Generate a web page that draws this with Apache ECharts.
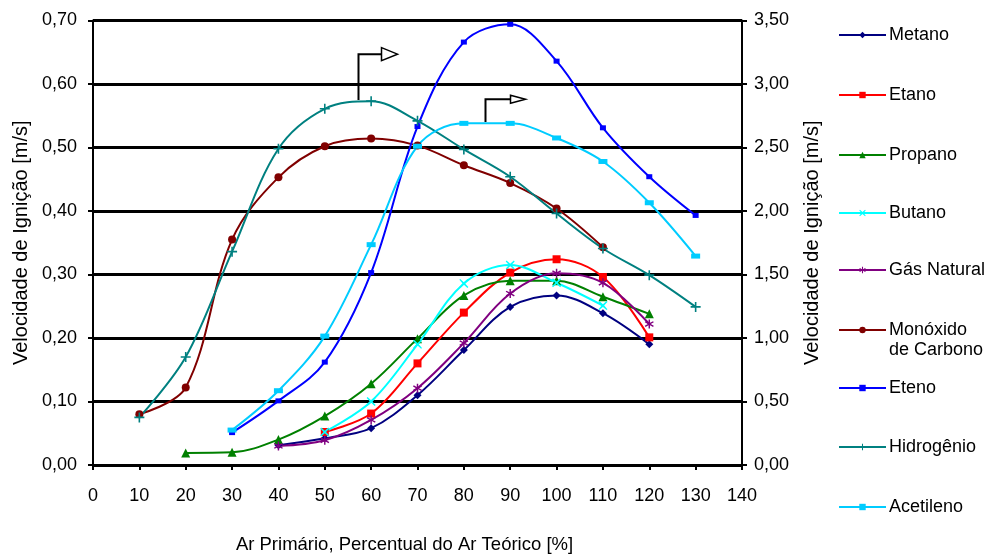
<!DOCTYPE html>
<html>
<head>
<meta charset="utf-8">
<script src="https://cdn.jsdelivr.net/npm/echarts@6/dist/echarts.min.js"></script>
<style>
html,body{margin:0;padding:0;background:#fff;}
#c{width:990px;height:559px;}
</style>
</head>
<body>
<div id="c"></div>
<script>
// ---- data ----
const xTicksMin = 0, xTicksMax = 140;
const metanoX = [40, 50, 60, 70, 80, 90, 100, 110, 120];
const metanoY = [0.031, 0.042, 0.058, 0.110, 0.181, 0.249, 0.267, 0.239, 0.190];
const etanoX = [50, 60, 70, 80, 90, 100, 110, 120];
const etanoY = [0.052, 0.081, 0.160, 0.240, 0.303, 0.324, 0.296, 0.201];
const propanoX = [20, 30, 40, 50, 60, 70, 80, 90, 100, 110, 120];
const propanoY = [0.019, 0.020, 0.040, 0.077, 0.128, 0.199, 0.267, 0.290, 0.290, 0.265, 0.238];
const butanoX = [50, 60, 70, 80, 90, 100, 110];
const butanoY = [0.052, 0.100, 0.190, 0.286, 0.315, 0.287, 0.251];
const gasNaturalX = [40, 50, 60, 70, 80, 90, 100, 110, 120];
const gasNaturalY = [0.030, 0.039, 0.071, 0.121, 0.192, 0.270, 0.302, 0.287, 0.222];
const coX = [10, 20, 30, 40, 50, 60, 70, 80, 90, 100, 110];
const coY = [0.080, 0.122, 0.355, 0.453, 0.502, 0.514, 0.503, 0.472, 0.444, 0.404, 0.343];
const etenoX = [30, 40, 50, 60, 70, 80, 90, 100, 110, 120, 130];
const etenoY = [0.051, 0.101, 0.162, 0.303, 0.533, 0.666, 0.694, 0.636, 0.531, 0.454, 0.393];
// right axis (m/s, 0 - 3,50)
const hidrogenioX = [10, 20, 30, 40, 50, 60, 70, 80, 90, 100, 110, 120, 130];
const hidrogenioY = [0.375, 0.85, 1.68, 2.49, 2.805, 2.865, 2.71, 2.485, 2.27, 1.98, 1.705, 1.495, 1.245];
const acetilenoX = [30, 40, 50, 60, 70, 80, 90, 100, 110, 120, 130];
const acetilenoY = [0.275, 0.585, 1.015, 1.735, 2.51, 2.69, 2.69, 2.575, 2.39, 2.065, 1.645];

const names = ['Metano', 'Etano', 'Propano', 'Butano', 'Gás Natural',
  'Monóxido de Carbono', 'Eteno', 'Hidrogênio', 'Acetileno'];
const xTitle = 'Ar Primário, Percentual do Ar Teórico [%]';
const yTitle = 'Velocidade de Ignição [m/s]';

// ---- styling ----
const FONT = 'Liberation Sans, Arial, sans-serif';
const xPath = 'path://M1,0L5,3.6L9,0L10,1L6.4,5L10,9L9,10L5,6.4L1,10L0,9L3.6,5L0,1Z';
const starPath = 'path://M4.3,0L5.7,0L5.7,3.3L8.6,1.6L9.3,2.8L6.4,4.5L9.3,6.2L8.6,7.4L5.7,5.7L5.7,9L4.3,9L4.3,5.7L1.4,7.4L0.7,6.2L3.6,4.5L0.7,2.8L1.4,1.6L4.3,3.3Z';
const tickPlus = 'path://M4.2,0L5.8,0L5.8,4.2L10,4.2L10,5.8L5.8,5.8L5.8,10L4.2,10L4.2,5.8L0,5.8L0,4.2L4.2,4.2Z';

const seriesDefs = [
  {name: names[0], x: metanoX, y: metanoY, color: '#000080', symbol: 'diamond', size: 8, axis: 0},
  {name: names[1], x: etanoX, y: etanoY, color: '#FF0000', symbol: 'rect', size: 8, axis: 0},
  {name: names[2], x: propanoX, y: propanoY, color: '#008000', symbol: 'triangle', size: 9, axis: 0},
  {name: names[3], x: butanoX, y: butanoY, color: '#00FFFF', symbol: xPath, size: 9, axis: 0},
  {name: names[4], x: gasNaturalX, y: gasNaturalY, color: '#800080', symbol: starPath, size: 9, axis: 0},
  {name: names[5], x: coX, y: coY, color: '#800000', symbol: 'circle', size: 8, axis: 0},
  {name: names[6], x: etenoX, y: etenoY, color: '#0000FF', symbol: 'rect', size: [6, 5], axis: 0},
  {name: names[7], x: hidrogenioX, y: hidrogenioY, color: '#008080', symbol: tickPlus, size: 10, axis: 1},
  {name: names[8], x: acetilenoX, y: acetilenoY, color: '#00CCFF', symbol: 'rect', size: [9, 5], axis: 1}
];

const series = seriesDefs.map(d => ({
  name: d.name,
  type: 'line',
  yAxisIndex: d.axis,
  data: d.x.map((v, i) => [v, d.y[i]]),
  smooth: 0.35,
  symbol: d.symbol,
  symbolSize: d.size,
  showSymbol: true,
  lineStyle: {color: d.color, width: 2},
  itemStyle: {color: d.color, borderWidth: 0},
  emphasis: {disabled: true},
  animation: false,
  z: 3
}));

const legendCenters = [35, 95, 155, 213, 270, 330, 388, 447, 507];
const legends = names.map((n, i) => {
  const isCO = i === 5;
  return {
    show: true,
    data: [n],
    orient: 'vertical',
    left: 838,
    top: isCO ? legendCenters[i] - 30 : legendCenters[i] - 10,
    padding: 0,
    itemWidth: 47,
    itemHeight: 8,
    itemGap: 0,
    selectedMode: false,
    formatter: isCO ? '\nMonóxido\nde Carbono' : null,
    textStyle: {fontFamily: FONT, fontSize: 18, color: '#000', lineHeight: 20, padding: [0, 0, 0, -2]}
  };
});

const chart = echarts.init(document.getElementById('c'), null, {renderer: 'canvas'});
const option = {
  animation: false,
  backgroundColor: '#fff',
  grid: {left: 93, right: 248, top: 20.5, bottom: 94, containLabel: false},
  legend: legends,
  xAxis: {
    type: 'value',
    min: xTicksMin, max: xTicksMax, interval: 10,
    name: xTitle,
    nameLocation: 'middle',
    nameGap: 70,
    nameTextStyle: {fontFamily: FONT, fontSize: 18.5, color: '#000', padding: [0, 26, 0, 0]},
    axisLine: {show: true, onZero: false, lineStyle: {color: '#000', width: 2}},
    axisTick: {show: true, inside: false, length: 5, lineStyle: {color: '#000', width: 2}},
    axisLabel: {fontFamily: FONT, fontSize: 18, color: '#000', margin: 22},
    splitLine: {show: false}
  },
  yAxis: [
    {
      type: 'value',
      position: 'left',
      min: 0, max: 0.7, interval: 0.1,
      name: yTitle,
      nameLocation: 'middle',
      nameRotate: 90,
      nameGap: 59,
      nameTextStyle: {fontFamily: FONT, fontSize: 20, color: '#000'},
      axisLine: {show: true, lineStyle: {color: '#000', width: 2}},
      axisTick: {show: true, inside: false, length: 5, lineStyle: {color: '#000', width: 2}},
      axisLabel: {fontFamily: FONT, fontSize: 18, color: '#000', margin: 16,
        formatter: v => v.toFixed(2).replace('.', ',')},
      splitLine: {show: true, lineStyle: {color: '#000', width: 3}}
    },
    {
      type: 'value',
      position: 'right',
      min: 0, max: 3.5, interval: 0.5,
      name: yTitle,
      nameLocation: 'middle',
      nameRotate: 90,
      nameGap: 60,
      nameTextStyle: {fontFamily: FONT, fontSize: 20, color: '#000'},
      axisLine: {show: true, lineStyle: {color: '#000', width: 2}},
      axisTick: {show: true, inside: false, length: 5, lineStyle: {color: '#000', width: 2}},
      axisLabel: {fontFamily: FONT, fontSize: 18, color: '#000', margin: 12,
        formatter: v => v.toFixed(2).replace('.', ',')},
      splitLine: {show: false}
    }
  ],
  series: series
};
chart.setOption(option);

// callout arrows (annotation): anchored on data coordinates
function callout(xv, yFrom, yTo, hLen, headLen, headH) {
  const p1 = chart.convertToPixel({xAxisIndex: 0, yAxisIndex: 0}, [xv, yFrom]);
  const p2 = chart.convertToPixel({xAxisIndex: 0, yAxisIndex: 0}, [xv, yTo]);
  const x0 = Math.round(p1[0]) + 0.5;
  const xe = x0 + hLen;
  return [
    {type: 'polyline', shape: {points: [[x0, p1[1]], [x0, p2[1]], [xe, p2[1]]]},
      style: {stroke: '#000', lineWidth: 2, fill: null}, z: 10},
    {type: 'polygon', shape: {points: [[xe, p2[1] - headH / 2], [xe + headLen, p2[1]], [xe, p2[1] + headH / 2]]},
      style: {stroke: '#000', lineWidth: 1.5, fill: '#fff'}, z: 11}
  ];
}
chart.setOption({
  graphic: [].concat(
    callout(57.2, 0.575, 0.647, 23, 16, 13),
    callout(84.6, 0.540, 0.576, 25, 15, 8)
  )
});
</script>
</body>
</html>
